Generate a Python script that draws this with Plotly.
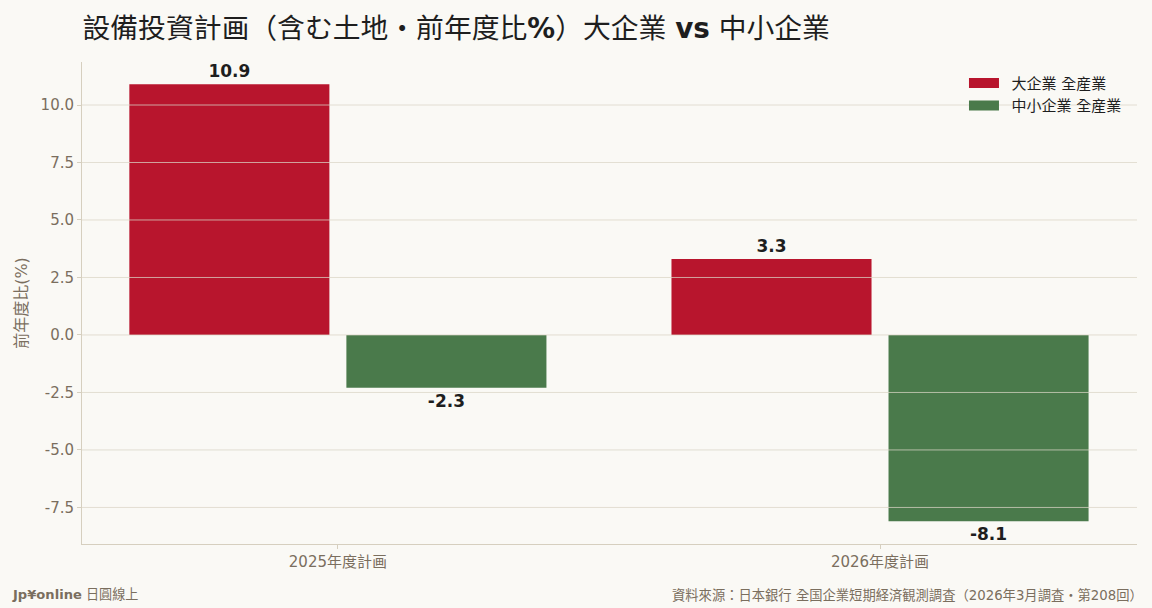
import plotly.graph_objects as go

categories = ["2025年度計画", "2026年度計画"]
large_values = [10.9, 3.3]
small_values = [-2.3, -8.1]
series_names = ["大企業 全産業", "中小企業 全産業"]
y_ticks = [-7.5, -5.0, -2.5, 0.0, 2.5, 5.0, 7.5, 10.0]

RED = "#b8152d"
GREEN = "#4a7a4b"
BG = "#faf9f5"
TXT = "#7a6e5e"
FONT = "DejaVu Sans, Noto Sans CJK TC, sans-serif"

fig = go.Figure()
for name, vals, col in [(series_names[0], large_values, RED), (series_names[1], small_values, GREEN)]:
    fig.add_trace(go.Bar(
        x=categories, y=vals, name=name, marker=dict(color=col, line=dict(width=0)),
        text=[f"{v:.1f}" for v in vals], textposition="outside",
        textfont=dict(family=FONT, size=17, color="#1e1e1e", weight="bold"),
        cliponaxis=False, showlegend=False, hoverinfo="skip",
    ))
    fig.add_trace(go.Scatter(
        x=[None], y=[None], mode="lines", name="\u2002" + name,
        line=dict(color=col, width=10), showlegend=True,
    ))

shapes = []
for t in y_ticks:
    shapes.append(dict(type="line", xref="paper", x0=0, x1=1, yref="y", y0=t, y1=t,
                       line=dict(color="rgba(218,212,198,0.75)", width=1), layer="above"))

fig.update_layout(
    width=1152, height=608,
    paper_bgcolor=BG, plot_bgcolor=BG,
    margin=dict(l=82, r=15, t=62, b=64),
    font=dict(family=FONT, color=TXT, size=14),
    title=dict(text="設備投資計画（含む土地・前年度比<b>%</b>）大企業 <b>vs</b> 中小企業",
               x=0.0005, xref="paper", xanchor="left", y=0.953, yanchor="middle",
               font=dict(family=FONT, size=27.8, color="#1e1e1e")),
    barmode="group", bargap=0.1993, bargroupgap=0.0783,
    shapes=shapes,
    legend=dict(x=0.9905, xanchor="right", y=0.99, yanchor="top", bgcolor="rgba(0,0,0,0)",
                font=dict(size=15, color="#1e1e1e"), itemwidth=30, tracegroupgap=0),
    xaxis=dict(range=[-0.472, 1.474], showgrid=False, showline=True, linecolor="#d6cfbf",
               linewidth=1, ticks="outside", ticklen=4, tickcolor="#d6cfbf",
               tickfont=dict(size=15, color=TXT), zeroline=False),
    yaxis=dict(range=[-9.09, 11.87], tickvals=y_ticks, ticktext=[f"{t:.1f}" for t in y_ticks],
               showgrid=False, showline=True, linecolor="#d6cfbf", linewidth=1,
               ticks="outside", ticklen=4, tickcolor="#d6cfbf", zeroline=False,
               tickfont=dict(size=15, color=TXT),
               title=dict(text="前年度比(%)", font=dict(size=16, color=TXT), standoff=8)),
    annotations=[
        dict(text="<b>Jp¥online</b> 日圓線上", xref="paper", yref="paper", x=-0.0683, y=-0.105,
             xanchor="left", yanchor="middle", showarrow=False, font=dict(size=13.1, color=TXT)),
        dict(text="資料來源：日本銀行 全国企業短期経済観測調査（2026年3月調査・第208回）",
             xref="paper", yref="paper",
             x=1.008, y=-0.105, xanchor="right", yanchor="middle", showarrow=False,
             font=dict(size=13.3, color=TXT)),
    ],
)

fig.write_html("out.html", config={"displayModeBar": False},
               post_script="document.body.style.margin='0';document.body.style.overflow='hidden';")
